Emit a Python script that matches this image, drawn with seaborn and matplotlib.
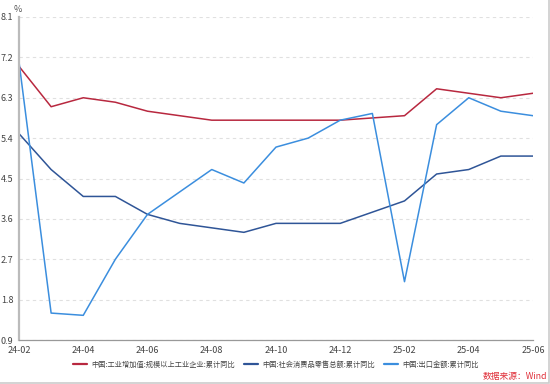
import pandas as pd
import matplotlib
matplotlib.use("Agg")
import matplotlib.pyplot as plt
from matplotlib.patches import Rectangle
import seaborn as sns

months = ["24-02", "24-03", "24-04", "24-05", "24-06", "24-07", "24-08", "24-09",
          "24-10", "24-11", "24-12", "25-01", "25-02", "25-03", "25-04", "25-05", "25-06"]
industry = [7.0, 6.1, 6.3, 6.2, 6.0, 5.9, 5.8, 5.8, 5.8, 5.8, 5.8, None, 5.9, 6.5, 6.4, 6.3, 6.4]
retail = [5.5, 4.7, 4.1, 4.1, 3.7, 3.5, 3.4, 3.3, 3.5, 3.5, 3.5, None, 4.0, 4.6, 4.7, 5.0, 5.0]
export = [7.1, 1.5, 1.45, 2.7, 3.7, 4.2, 4.7, 4.4, 5.2, 5.4, 5.8, 5.95, 2.2, 5.7, 6.3, 6.0, 5.9]

names = ["中国:工业增加值:规模以上工业企业:累计同比",
         "中国:社会消费品零售总额:累计同比",
         "中国:出口金额:累计同比"]
colors = ["#b8283f", "#2f5597", "#3b8ede"]
xticks = ["24-02", "24-04", "24-06", "24-08", "24-10", "24-12", "25-02", "25-04", "25-06"]
yticks = [0.9, 1.8, 2.7, 3.6, 4.5, 5.4, 6.3, 7.2, 8.1]

df = pd.DataFrame({"month": months, names[0]: industry, names[1]: retail, names[2]: export})
df["x"] = range(len(months))
long = df.melt(id_vars=["month", "x"], value_vars=names, var_name="series", value_name="value").dropna()

sns.set_style("white")
plt.rcParams["font.family"] = ["Noto Sans CJK SC", "DejaVu Sans"]

fig = plt.figure(figsize=(5.5, 3.84), dpi=100)
ax = fig.add_axes([19 / 550, 1 - 340 / 384, 514 / 550, 323 / 384])

sns.lineplot(data=long, x="x", y="value", hue="series", hue_order=names,
             palette=colors, linewidth=1.1, ax=ax, legend=False)

ax.set_xlim(0, len(months) - 1)
ax.set_ylim(0.9, 8.1)
ax.set_yticks(yticks)
ax.set_yticklabels([f"{v:.1f}" for v in yticks])
ax.set_xticks([months.index(m) for m in xticks])
ax.set_xticklabels(xticks)
ax.set_xlabel("")
ax.set_ylabel("")
ax.yaxis.grid(True, linestyle=(0, (3, 3)), color="#e0e0e0", linewidth=0.8)
ax.tick_params(axis="both", labelsize=6.5, colors="#888888", labelcolor="#444444",
               length=3, width=0.8, pad=1)
for s in ["top", "right"]:
    ax.spines[s].set_visible(False)
ax.spines["left"].set_color("#bbbbbb")
ax.spines["left"].set_linewidth(1.6)
ax.spines["bottom"].set_color("#999999")
ax.spines["bottom"].set_linewidth(0.9)

fig.text(18 / 550, 1 - 9 / 384, "%", fontsize=6.5, color="#555555", ha="center", va="center")

handles = [plt.Line2D([], [], color=c, linewidth=1.6) for c in colors]
fig.legend(handles, names, loc="center", bbox_to_anchor=(276 / 550, 1 - 365 / 384), ncol=3,
           frameon=False, fontsize=5.2, handlelength=1.9, columnspacing=1.3, handletextpad=0.6,
           labelcolor="#444444")

fig.text(547 / 550, 1 - 377 / 384, "数据来源：Wind", fontsize=6.3, color="#e0303a", ha="right", va="center")

fig.patches.append(Rectangle((-0.01, 1.5 / 384), 1 - 0.8 / 550 + 0.01, 1.1,
                             transform=fig.transFigure, fill=False, edgecolor="#cccccc",
                             linewidth=1.2))

fig.savefig("out.png", dpi=100)
